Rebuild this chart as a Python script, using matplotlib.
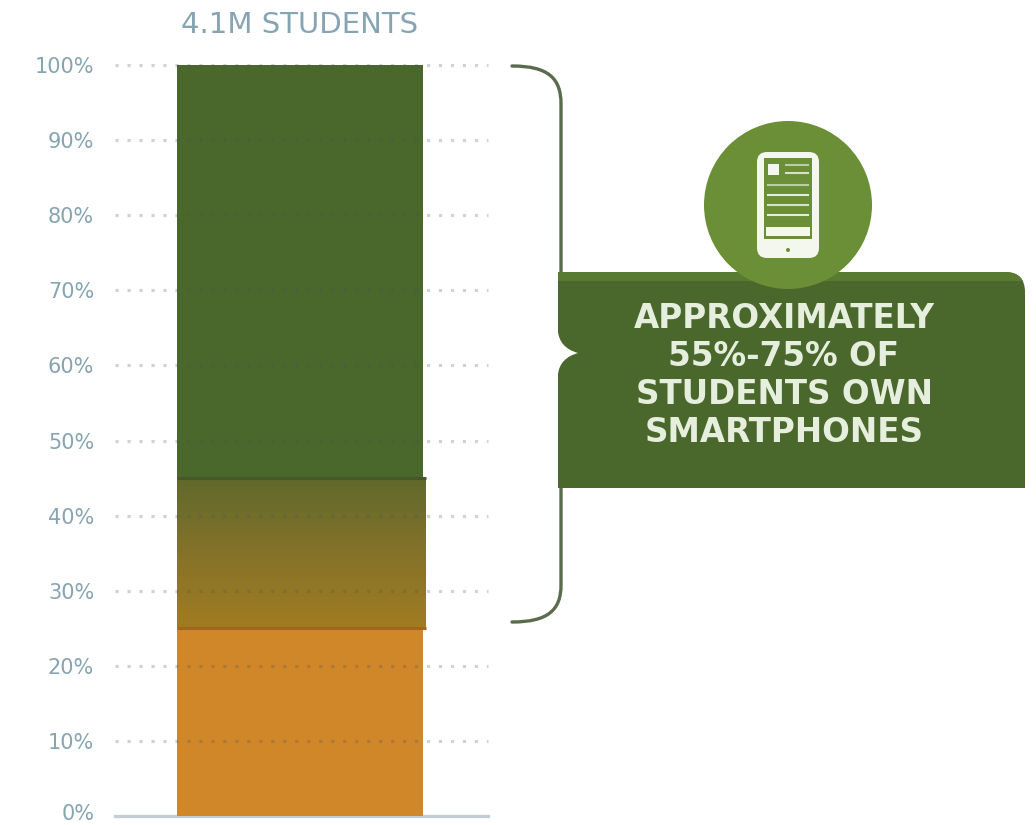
import matplotlib
matplotlib.use("Agg")
import matplotlib.pyplot as plt
from matplotlib.colors import LinearSegmentedColormap
from matplotlib.patches import Circle, FancyBboxPatch, PathPatch, Rectangle
from matplotlib.path import Path
from matplotlib.transforms import ScaledTranslation
import numpy as np

# stacked shares of the 4.1M students
column_label = "4.1M STUDENTS"
no_phone_share = [25]
maybe_share = [20]
phone_share = [55]
y_ticks = [0, 10, 20, 30, 40, 50, 60, 70, 80, 90, 100]
y_tick_labels = ["0%", "10%", "20%", "30%", "40%", "50%", "60%", "70%", "80%", "90%", "100%"]
callout_lines = ["APPROXIMATELY", "55%-75% OF", "STUDENTS OWN", "SMARTPHONES"]

DARK_GREEN = "#4a672c"
LIGHT_GREEN = "#6a8f36"
ORANGE = "#d08729"
AXIS_BLUE = "#86a4b2"
TEXT_FONT = ["DejaVu Sans"]

W, H = 1036, 825
fig = plt.figure(figsize=(W / 100, H / 100), dpi=100, facecolor="white")

# chart axes, placed in pixels
left, right, top, bottom = 115, 488, 65, 816
ax = fig.add_axes([left / W, 1 - bottom / H, (right - left) / W, (bottom - top) / H])
bar_px = 246
center_px = 300
ax.patch.set_visible(False)

ax.bar([0], no_phone_share, width=1, color=ORANGE, zorder=2)
mid_bottom = no_phone_share[0]
mid_top = mid_bottom + maybe_share[0]
ax.bar([0], phone_share, bottom=[mid_top], width=1, color=DARK_GREEN, zorder=2)

# blend band between orange and green, a touch wider than the bar on the right
mid_bar = ax.bar([0.006], maybe_share, bottom=[mid_bottom], width=1.012, color="none", zorder=3)[0]
blend = LinearSegmentedColormap.from_list("blend", ["#a07c22", "#85722a", "#5f692c"])
img = ax.imshow(np.linspace(0, 1, 128).reshape(-1, 1), cmap=blend, origin="lower", aspect="auto",
                extent=[-0.5, 0.512, mid_bottom, mid_top], zorder=3)
img.set_clip_path(mid_bar)
ax.set_xlim((left - center_px) / bar_px, (right - center_px) / bar_px)
ax.set_ylim(0, 100)
ax.hlines(mid_top, -0.5, 0.512, color="#46582a", linewidth=2.2, zorder=4)
ax.hlines(mid_bottom, -0.5, 0.512, color="#a4651c", linewidth=2.2, zorder=4)

# dotted gridlines run over the bar
for tick in y_ticks[1:]:
    ax.axhline(tick, color="#46565e", alpha=0.26, linewidth=2.3, linestyle=(0, (1, 2.75)),
               clip_on=False, zorder=5)

for side in ["top", "right", "left"]:
    ax.spines[side].set_visible(False)
ax.spines["bottom"].set_color("#c4ced6")
ax.spines["bottom"].set_linewidth(2.4)
ax.spines["bottom"].set_zorder(1)
ax.set_xticks([])
ax.set_yticks(y_ticks, y_tick_labels, fontsize=15, color=AXIS_BLUE, family=TEXT_FONT)
ax.tick_params(axis="y", length=0, pad=15)
# the 0% label sits close to the bottom edge, nudge it up so it stays inside
zero_label = ax.get_yticklabels()[0]
zero_label.set_transform(zero_label.get_transform() + ScaledTranslation(0, 3 / 72, fig.dpi_scale_trans))
ax.set_title(column_label, x=(center_px - left) / (right - left), fontsize=21, color=AXIS_BLUE,
             family=TEXT_FONT, pad=23)

# overlay in pixel coordinates for the brace and callout
over = fig.add_axes([0, 0, 1, 1])
over.set_xlim(0, W)
over.set_ylim(H, 0)
over.axis("off")
over.patch.set_visible(False)

# brace goes behind the box, broken so the notch stays white
brace_top = Path(
    [(512, 66), (548, 66), (561, 78), (561, 104), (561, 300)],
    [Path.MOVETO, Path.CURVE4, Path.CURVE4, Path.CURVE4, Path.LINETO],
)
brace_low = Path(
    [(561, 460), (561, 585), (561, 610), (548, 622), (512, 622)],
    [Path.MOVETO, Path.LINETO, Path.CURVE4, Path.CURVE4, Path.CURVE4],
)
for piece in [brace_top, brace_low]:
    over.add_patch(PathPatch(piece, fill=False, edgecolor="#5b6b4e", linewidth=2.4, capstyle="round"))

box = Path(
    [(558, 272), (1005, 272), (1025, 272), (1025, 292), (1025, 488), (558, 488), (558, 374),
     (560, 358), (578, 353), (560, 348), (558, 332), (558, 272)],
    [Path.MOVETO, Path.LINETO, Path.CURVE3, Path.CURVE3, Path.LINETO, Path.LINETO, Path.LINETO,
     Path.CURVE3, Path.CURVE3, Path.CURVE3, Path.CURVE3, Path.CLOSEPOLY],
)
box_patch = PathPatch(box, facecolor=DARK_GREEN, edgecolor="none", zorder=3)
over.add_patch(box_patch)
strip = Rectangle((558, 272), 467, 9, facecolor="#587a31", edgecolor="none", zorder=3.1)
over.add_patch(strip)
strip.set_clip_path(box_patch)

# phone badge
over.add_patch(Circle((788, 205), 84, facecolor=LIGHT_GREEN, edgecolor="none", zorder=4))
over.add_patch(FancyBboxPatch((763, 158), 50, 94, boxstyle="round,pad=6,rounding_size=10",
                              facecolor="#f4f7ee", edgecolor="none", zorder=5))
over.add_patch(Rectangle((764, 158), 48, 81, facecolor=LIGHT_GREEN, edgecolor="none", zorder=6))
over.add_patch(Rectangle((768, 164), 11, 11, facecolor="#f4f7ee", edgecolor="none", zorder=7))
over.add_patch(Rectangle((766, 227), 44, 9, facecolor="#f4f7ee", edgecolor="none", zorder=7))
over.add_patch(Circle((788, 250), 2, facecolor=LIGHT_GREEN, edgecolor="none", zorder=7))
for y, x0, alpha in [(165, 786, 0.6), (173, 786, 0.8), (185, 768, 0.6), (195, 768, 0.9),
                     (205, 768, 0.8), (215, 768, 0.9)]:
    over.plot([x0, 808], [y, y], color="#f4f7ee", alpha=alpha, linewidth=1.5, zorder=7)

for line, y in zip(callout_lines, [318, 356, 394, 432]):
    over.text(784, y, line, ha="center", va="center", color="#e6eede", fontsize=23.5,
              family=TEXT_FONT, fontweight="bold", zorder=8)

fig.savefig("out.png", dpi=100, facecolor="white")
